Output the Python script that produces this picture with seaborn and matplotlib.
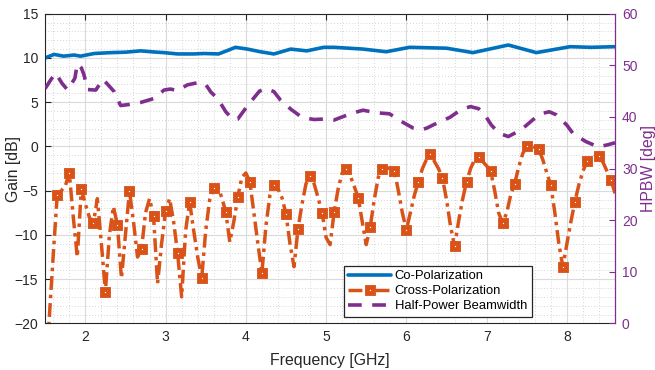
import numpy as np
import pandas as pd
import matplotlib
matplotlib.use("Agg")
import matplotlib.pyplot as plt
from matplotlib.ticker import MultipleLocator
import seaborn as sns

# ---------------- data ----------------
co_freq = [1.50, 1.61, 1.73, 1.86, 1.94, 2.11, 2.32, 2.50, 2.69, 2.86, 2.98, 3.15,
           3.35, 3.48, 3.66, 3.76, 3.87, 4.02, 4.18, 4.35, 4.56, 4.76, 4.97, 5.10,
           5.46, 5.75, 6.04, 6.50, 6.83, 7.27, 7.62, 8.04, 8.30, 8.60]
co_gain = [10.0, 10.4, 10.2, 10.33, 10.2, 10.5, 10.6, 10.65, 10.8, 10.67, 10.6, 10.45,
           10.45, 10.5, 10.45, 10.8, 11.2, 11.0, 10.7, 10.45, 11.0, 10.8, 11.2, 11.2,
           11.0, 10.7, 11.2, 11.1, 10.6, 11.46, 10.6, 11.27, 11.2, 11.27]

cross_freq = [1.50, 1.55, 1.60, 1.65, 1.70, 1.75, 1.80, 1.85, 1.90, 1.95,
              2.00, 2.05, 2.10, 2.15, 2.20, 2.25, 2.30, 2.35, 2.40, 2.45,
              2.50, 2.55, 2.60, 2.65, 2.70, 2.75, 2.80, 2.85, 2.90, 2.95,
              3.00, 3.05, 3.10, 3.15, 3.20, 3.25, 3.30, 3.35, 3.40, 3.45,
              3.50, 3.55, 3.60, 3.65, 3.70, 3.75, 3.80, 3.85, 3.90, 3.95,
              4.00, 4.05, 4.10, 4.15, 4.20, 4.25, 4.30, 4.35, 4.40, 4.45,
              4.50, 4.55, 4.60, 4.65, 4.70, 4.75, 4.80, 4.85, 4.90, 4.95,
              5.00, 5.05, 5.10, 5.15, 5.20, 5.25, 5.30, 5.35, 5.40, 5.45,
              5.50, 5.55, 5.60, 5.65, 5.70, 5.75, 5.80, 5.85, 5.90, 5.95,
              6.00, 6.05, 6.10, 6.15, 6.20, 6.25, 6.30, 6.35, 6.40, 6.45,
              6.50, 6.55, 6.60, 6.65, 6.70, 6.75, 6.80, 6.85, 6.90, 6.95,
              7.00, 7.05, 7.10, 7.15, 7.20, 7.25, 7.30, 7.35, 7.40, 7.45,
              7.50, 7.55, 7.60, 7.65, 7.70, 7.75, 7.80, 7.85, 7.90, 7.95,
              8.00, 8.05, 8.10, 8.15, 8.20, 8.25, 8.30, 8.35, 8.40, 8.45,
              8.50, 8.55, 8.60]
cross_gain = [-27.0, -19.5, -12.3, -5.5, -5.0, -4.5, -3.0, -8.0, -12.5, -4.85,
              -6.5, -8.0, -8.7, -5.9, -11.0, -16.4, -10.0, -6.8, -8.9, -14.9,
              -10.0, -5.05, -8.5, -12.5, -11.6, -7.5, -5.9, -7.9, -15.5, -11.0,
              -7.3, -5.9, -8.5, -12.1, -17.0, -9.5, -6.3, -9.5, -12.5, -14.9,
              -9.5, -6.0, -4.7, -4.5, -5.8, -7.4, -10.8, -8.5, -5.7, -3.5,
              -3.0, -4.0, -7.5, -11.0, -14.3, -9.0, -5.5, -4.4, -4.8, -5.8,
              -7.6, -11.0, -13.6, -9.3, -6.5, -4.2, -3.4, -4.2, -5.8, -7.5,
              -10.3, -11.1, -7.4, -4.8, -3.0, -2.5, -3.3, -4.5, -5.8, -8.5,
              -11.1, -9.1, -6.0, -3.5, -2.5, -2.4, -2.5, -2.75, -5.0, -7.5,
              -9.45, -7.5, -5.5, -4.0, -2.5, -1.5, -0.9, -1.7, -2.5, -3.6,
              -6.0, -9.0, -11.3, -8.5, -6.0, -4.0, -2.5, -1.5, -1.2, -1.7,
              -2.2, -2.8, -5.0, -7.5, -8.7, -7.5, -5.5, -4.2, -2.3, -0.8,
              0.0, 0.1, -0.1, -0.3, -1.5, -3.0, -4.4, -7.5, -11.0, -13.6,
              -11.0, -8.5, -6.25, -4.3, -2.8, -1.7, -1.4, -1.1, -1.1, -1.8,
              -2.8, -3.8, -5.3]

hpbw_freq = [1.50, 1.57, 1.63, 1.71, 1.78, 1.87, 1.90, 1.95, 1.98, 2.03,
             2.13, 2.22, 2.36, 2.44, 2.54, 2.69, 2.86, 2.98, 3.06, 3.15,
             3.27, 3.42, 3.50, 3.56, 3.66, 3.75, 3.84, 3.90, 3.98, 4.08,
             4.17, 4.25, 4.35, 4.43, 4.56, 4.70, 4.85, 4.99, 5.10, 5.20,
             5.32, 5.46, 5.63, 5.79, 5.94, 6.09, 6.17, 6.25, 6.38, 6.54,
             6.69, 6.80, 6.90, 6.96, 7.06, 7.16, 7.27, 7.43, 7.58, 7.70,
             7.78, 7.87, 8.00, 8.08, 8.24, 8.39, 8.51, 8.60]
hpbw_deg = [45.5, 47.2, 48.5, 46.5, 45.2, 47.5, 50.3, 49.5, 48.3, 45.3,
            45.2, 47.3, 44.9, 42.2, 42.4, 42.8, 43.6, 45.2, 45.4, 45.1,
            46.2, 46.7, 46.3, 44.9, 43.3, 41.0, 39.5, 39.6, 41.3, 43.3,
            45.0, 45.5, 44.9, 43.3, 41.5, 39.9, 39.5, 39.6, 39.4, 40.0,
            40.7, 41.3, 40.8, 40.6, 39.1, 37.8, 37.5, 37.8, 38.8, 39.9,
            41.5, 42.0, 41.6, 40.8, 38.4, 36.8, 36.2, 37.5, 39.5, 40.7,
            41.0, 40.4, 38.4, 36.7, 35.2, 34.2, 34.6, 35.0]

series_labels = ["Co-Polarization", "Cross-Polarization", "Half-Power Beamwidth"]
gain_ticks = [-20, -15, -10, -5, 0, 5, 10, 15]
hpbw_ticks = [0, 10, 20, 30, 40, 50, 60]
freq_ticks = [2, 3, 4, 5, 6, 7, 8]

# ---------------- style ----------------
sns.set_style("white")
plt.rcParams["font.family"] = ["Liberation Sans", "DejaVu Sans"]
plt.rcParams["axes.linewidth"] = 0.8

BLUE = "#0072BD"
ORANGE = "#D95319"
PURPLE = "#7E2F8E"
DARK = "#262626"

fig = plt.figure(figsize=(6.55, 3.70), dpi=100)
ax = fig.add_axes([0.069, 0.126, 0.870, 0.837])
ax2 = ax.twinx()

df_co = pd.DataFrame({"f": co_freq, "g": co_gain})
df_cx = pd.DataFrame({"f": cross_freq, "g": cross_gain})
df_hp = pd.DataFrame({"f": hpbw_freq, "h": hpbw_deg})

sns.lineplot(data=df_co, x="f", y="g", ax=ax, color=BLUE, linewidth=2.6,
             legend=False, label=series_labels[0])
sns.lineplot(data=df_cx, x="f", y="g", ax=ax, color=ORANGE, linewidth=2.5,
             linestyle=(0, (4.0, 1.4, 1.0, 1.4)), marker="s", markevery=3,
             markersize=4.4, markeredgewidth=3.5, markerfacecolor="white",
             markeredgecolor=ORANGE, legend=False, label=series_labels[1])
sns.lineplot(data=df_hp, x="f", y="h", ax=ax2, color=PURPLE, linewidth=2.6,
             linestyle=(0, (3.8, 2.9)), legend=False, label=series_labels[2])

# left / bottom axes
ax.set_xlim(1.5, 8.6)
ax.set_ylim(-20, 15)
ax.set_xticks(freq_ticks)
ax.set_yticks(gain_ticks)
ax.xaxis.set_minor_locator(MultipleLocator(0.2))
ax.yaxis.set_minor_locator(MultipleLocator(1))
ax.grid(which="major", color="#dadada", linewidth=0.8)
ax.grid(which="minor", color="#c8c8c8", linewidth=0.6, linestyle=(0, (1, 2.5)))
ax.set_axisbelow(True)
ax.tick_params(which="major", direction="in", length=4.5, width=0.8,
               colors=DARK, labelsize=10, top=True, right=False, pad=5)
ax.tick_params(which="minor", length=0)
ax.set_xlabel("Frequency [GHz]", fontsize=11.4, color=DARK)
ax.set_ylabel("Gain [dB]", fontsize=11.4, color=DARK)
ax.xaxis.set_label_coords(0.5, -0.095)
ax.yaxis.set_label_coords(-0.042, 0.5)
for s in ["left", "bottom", "top"]:
    ax.spines[s].set_color(DARK)
    ax.spines[s].set_visible(True)
ax.spines["right"].set_visible(False)

# right axis
ax2.set_ylim(0, 60)
ax2.set_yticks(hpbw_ticks)
ax2.tick_params(axis="y", direction="in", length=4.5, width=0.8,
                colors=PURPLE, labelsize=10, pad=5)
ax2.set_ylabel("HPBW [deg]", fontsize=11.4, color=PURPLE)
ax2.yaxis.set_label_coords(1.046, 0.5)
ax2.spines["right"].set_color(PURPLE)
ax2.spines["right"].set_linewidth(0.9)
for s in ["left", "bottom", "top"]:
    ax2.spines[s].set_visible(False)
ax2.grid(False)

# legend
h_co = [l for l in ax.get_lines() if l.get_label() == series_labels[0]][0]
h_cx = [l for l in ax.get_lines() if l.get_label() == series_labels[1]][0]
h_hp = [l for l in ax2.get_lines() if l.get_label() == series_labels[2]][0]
leg = ax2.legend([h_co, h_cx, h_hp], series_labels, loc="lower left",
                 bbox_to_anchor=(0.524, 0.021), fontsize=9.4, frameon=True,
                 fancybox=False, framealpha=1, edgecolor=DARK,
                 handlelength=3.3, handletextpad=0.25, labelspacing=0.22,
                 borderpad=0.35, borderaxespad=0)
leg.get_frame().set_linewidth(0.9)
for t in leg.get_texts():
    t.set_color("black")

fig.savefig("out.png", dpi=100)
